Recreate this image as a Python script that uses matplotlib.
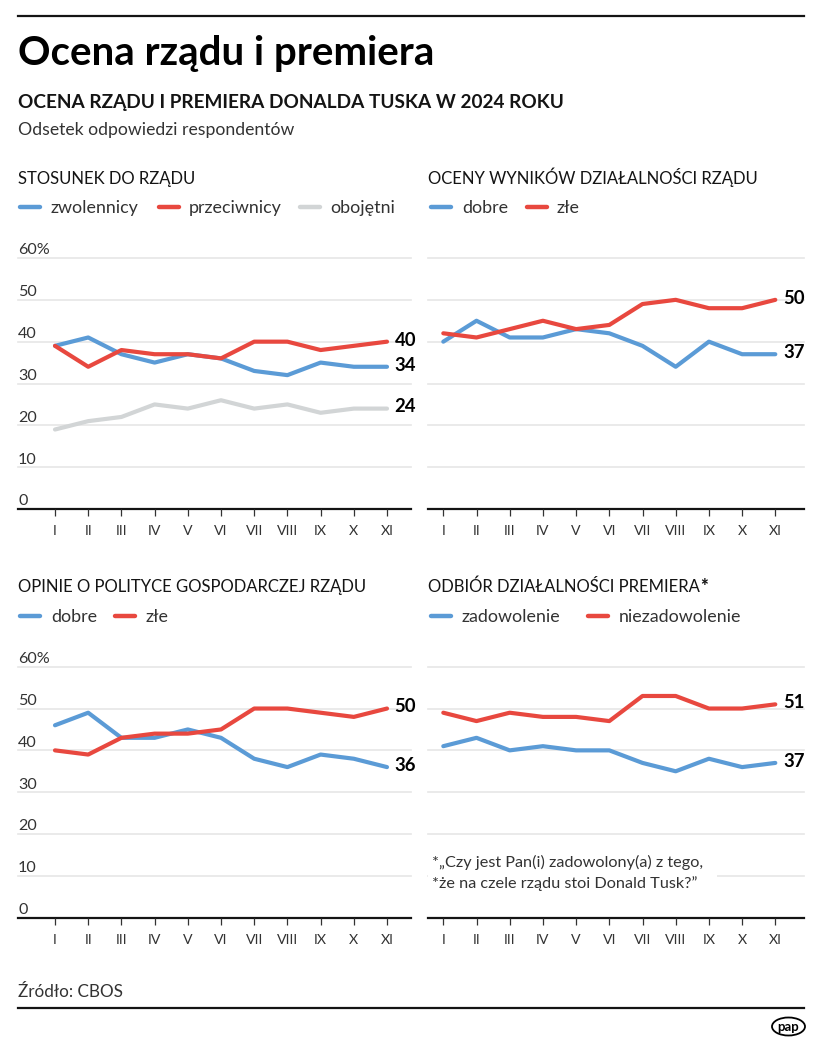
import matplotlib
matplotlib.use('Agg')
import matplotlib.pyplot as plt
from matplotlib.lines import Line2D
from matplotlib.patches import Ellipse, Rectangle

plt.rcParams['font.family'] = ['Lato', 'DejaVu Sans']

# ---------------- data ----------------
months = ['I', 'II', 'III', 'IV', 'V', 'VI', 'VII', 'VIII', 'IX', 'X', 'XI']
y_ticks = [0, 10, 20, 30, 40, 50, 60]

stosunek_zwolennicy = [39, 41, 37, 35, 37, 36, 33, 32, 35, 34, 34]
stosunek_przeciwnicy = [39, 34, 38, 37, 37, 36, 40, 40, 38, 39, 40]
stosunek_obojetni = [19, 21, 22, 25, 24, 26, 24, 25, 23, 24, 24]

wyniki_dobre = [40, 45, 41, 41, 43, 42, 39, 34, 40, 37, 37]
wyniki_zle = [42, 41, 43, 45, 43, 44, 49, 50, 48, 48, 50]

gosp_dobre = [46, 49, 43, 43, 45, 43, 38, 36, 39, 38, 36]
gosp_zle = [40, 39, 43, 44, 44, 45, 50, 50, 49, 48, 50]

premier_zadowolenie = [41, 43, 40, 41, 40, 40, 37, 35, 38, 36, 37]
premier_niezadowolenie = [49, 47, 49, 48, 48, 47, 53, 53, 50, 50, 51]

panel_titles = ['STOSUNEK DO RZĄDU', 'OCENY WYNIKÓW DZIAŁALNOŚCI RZĄDU',
                'OPINIE O POLITYCE GOSPODARCZEJ RZĄDU', 'ODBIÓR DZIAŁALNOŚCI PREMIERA']
legend_labels = [['zwolennicy', 'przeciwnicy', 'obojętni'],
                 ['dobre', 'złe'],
                 ['dobre', 'złe'],
                 ['zadowolenie', 'niezadowolenie']]

TITLE = 'Ocena rządu i premiera'
SUBTITLE = 'OCENA RZĄDU I PREMIERA DONALDA TUSKA W 2024 ROKU'
LEAD = 'Odsetek odpowiedzi respondentów'
FOOTNOTE = ['*„Czy jest Pan(i) zadowolony(a) z tego,', '*że na czele rządu stoi Donald Tusk?”']
SOURCE = 'Źródło: CBOS'

BLUE = '#5b9bd6'
RED = '#e8483f'
GREY = '#d2d5d6'
DARK = '#141414'
TXT = '#333333'

# ---------------- figure ----------------
W, H = 821, 1051
fig = plt.figure(figsize=(W / 100, H / 100), dpi=100)
fig.patch.set_facecolor('white')
r = fig.canvas.get_renderer()


def size_for(s, target, **kw):
    t = fig.text(0, 0, s, fontsize=10, **kw)
    w = t.get_window_extent(renderer=r).width
    t.remove()
    return 10 * target / w


def ftext(x, y, s, **kw):
    return fig.text(x / W, 1 - y / H, s, **kw)


def hrule(y, x0=18, x1=804, lw=1.6):
    fig.add_artist(Line2D([x0 / W, x1 / W], [1 - y / H] * 2, color=DARK, lw=lw,
                          transform=fig.transFigure))


fs_title = size_for(TITLE, 417, weight='bold')
fs_sub = size_for(SUBTITLE, 544, weight='bold')
fs_lead = size_for(LEAD, 277)
fs_ptitle = size_for(panel_titles[1], 329)
fs_leg = size_for('zwolennicy', 88)
fs_ytick = size_for('60%', 31.6)
fs_xtick = size_for('VIII', 21)
fs_end = size_for('40', 21.7, weight='bold')
fs_foot = size_for(FOOTNOTE[0], 271)
fs_src = size_for(SOURCE, 105)

# header
hrule(16)
ftext(18, 65, TITLE, fontsize=fs_title, weight='bold', color='black', va='baseline')
ftext(18, 108.3, SUBTITLE, fontsize=fs_sub, weight='bold', color=DARK, va='baseline')
ftext(18, 135, LEAD, fontsize=fs_lead, color=TXT, va='baseline')

# panels
panels = [
    dict(x0=18, x1=411, yt=258, yb=509, xi=55, tb=184, ly=207,
         leg=[(18, 51), (157, 189), (298, 330)], ylab=True,
         series=[(stosunek_zwolennicy, BLUE), (stosunek_przeciwnicy, RED), (stosunek_obojetni, GREY)]),
    dict(x0=428, x1=804, yt=258, yb=509, xi=443.3, tb=184, ly=207,
         leg=[(429, 462), (525, 557)], ylab=False,
         series=[(wyniki_dobre, BLUE), (wyniki_zle, RED)]),
    dict(x0=18, x1=411, yt=666.7, yb=917.7, xi=55, tb=591.7, ly=615.5,
         leg=[(18, 51.5), (113, 146)], ylab=True,
         series=[(gosp_dobre, BLUE), (gosp_zle, RED)]),
    dict(x0=428, x1=804, yt=666.7, yb=917.7, xi=443.3, tb=591.7, ly=615.5,
         leg=[(429, 462), (586, 619)], ylab=False,
         series=[(premier_zadowolenie, BLUE), (premier_niezadowolenie, RED)]),
]
step = 33.2

for k, p in enumerate(panels):
    ax = fig.add_axes([p['x0'] / W, 1 - p['yb'] / H, (p['x1'] - p['x0']) / W, (p['yb'] - p['yt']) / H])
    ax.set_facecolor('none')
    ax.set_ylim(y_ticks[0], y_ticks[-1])
    ax.set_xlim(-(p['xi'] - p['x0']) / step, (p['x1'] - p['xi']) / step)
    for s in ax.spines.values():
        s.set_visible(False)
    ax.set_yticks([])
    for v in y_ticks[1:]:
        ax.axhline(v, color='#e6e6e6', lw=1.2, zorder=0, clip_on=False)
    ax.axhline(0, color=DARK, lw=1.6, zorder=1, clip_on=False)
    ax.set_xticks(range(len(months)))
    ax.set_xticklabels(months, fontsize=fs_xtick, color=TXT)
    ax.tick_params(axis='x', length=5, width=0.9, color='#333333', pad=6.5)

    if p['ylab']:
        for v in y_ticks:
            ax.annotate(f'{v}%' if v == y_ticks[-1] else f'{v}', xy=(0, v),
                        xycoords=('axes fraction', 'data'), xytext=(0, 2.6),
                        textcoords='offset points', va='baseline', ha='left',
                        fontsize=fs_ytick, color=TXT)

    x = list(range(len(months)))
    for vals, c in p['series']:
        ax.plot(x, vals, color=c, lw=3, solid_capstyle='round', solid_joinstyle='round',
                clip_on=False, zorder=3)
        ax.annotate(f'{vals[-1]}', xy=(x[-1], vals[-1]), xytext=(5.5, 1.2),
                    textcoords='offset points', va='center', ha='left',
                    fontsize=fs_end, fontweight='bold', color='black')

    t = ftext(p['x0'] if p['x0'] > 20 else 18, p['tb'], panel_titles[k], fontsize=fs_ptitle,
              color=DARK, va='baseline')
    if k == 3:
        bb = t.get_window_extent(renderer=r)
        fig.text(bb.x1 / W + 0.5 / W, 1 - p['tb'] / H, '*', fontsize=fs_ptitle * 1.1, weight='black',
                 color=DARK, va='baseline')

    for (sx, tx), lab, (_, c) in zip(p['leg'], legend_labels[k], p['series']):
        fig.add_artist(Line2D([(sx + 1.5) / W, (sx + 21.5) / W], [1 - p['ly'] / H] * 2,
                              color=c, lw=3.2, solid_capstyle='round',
                              transform=fig.transFigure))
        ftext(tx, p['ly'] + 6.3, lab, fontsize=fs_leg, color=TXT, va='baseline')

# footnote in last panel
fig.add_artist(Rectangle((428 / W, 1 - 896 / H), (717 - 428) / W, 48 / H, transform=fig.transFigure,
                         facecolor='white', edgecolor='none', zorder=1))
ftext(432, 867.5, FOOTNOTE[0], fontsize=fs_foot, color=TXT, va='baseline', zorder=3)
ftext(432, 888, FOOTNOTE[1], fontsize=fs_foot, color=TXT, va='baseline', zorder=3)

# source + bottom rule + logo
ftext(18, 997, SOURCE, fontsize=fs_src, color=TXT, va='baseline')
hrule(1008)
fig.add_artist(Ellipse((788.5 / W, 1 - 1026.5 / H), 33 / W, 18 / H, transform=fig.transFigure,
                       fill=False, edgecolor='black', lw=1.3))
ftext(788.5, 1027, 'pap', fontsize=9.5, weight='bold', color='black', ha='center', va='center')

fig.savefig('out.png', dpi=100, facecolor='white')
